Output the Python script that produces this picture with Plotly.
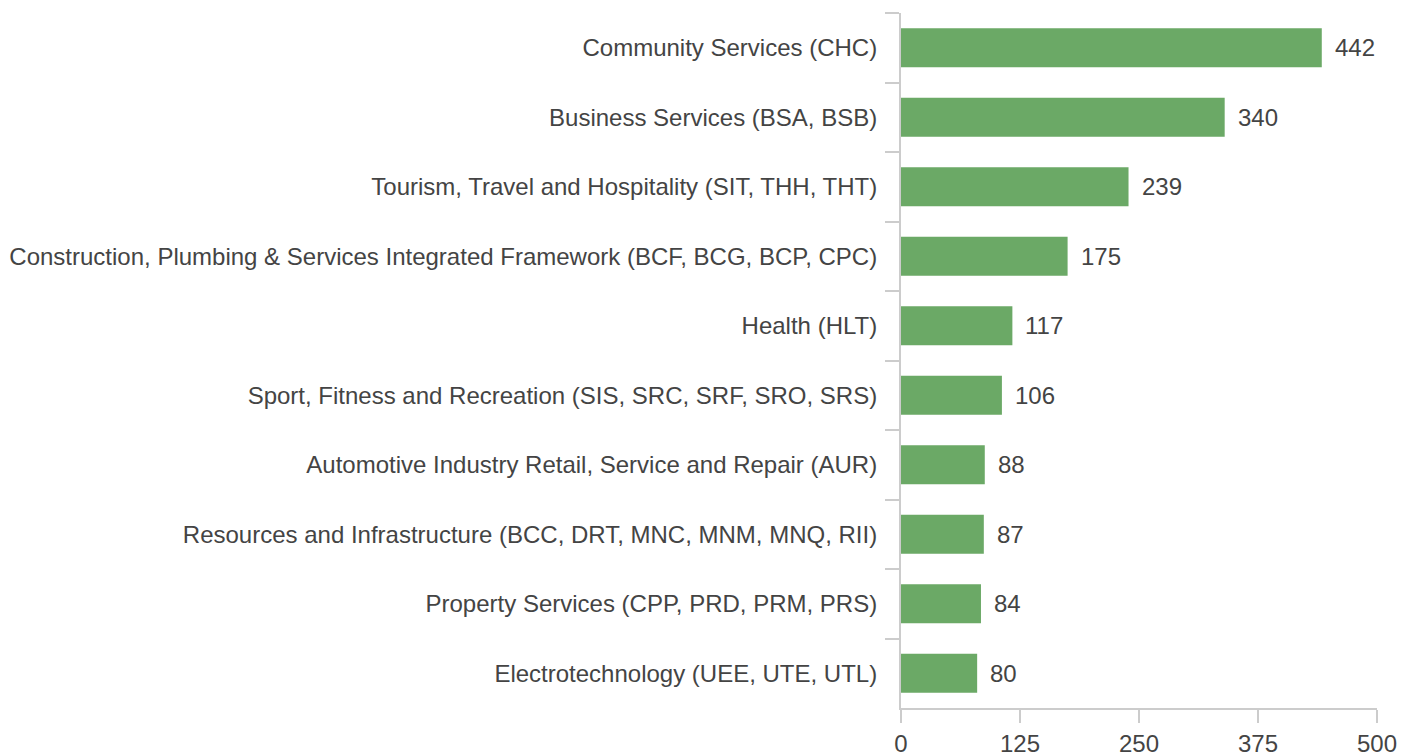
import plotly.graph_objects as go

categories = [
    "Community Services (CHC)",
    "Business Services (BSA, BSB)",
    "Tourism, Travel and Hospitality (SIT, THH, THT)",
    "Construction, Plumbing & Services Integrated Framework (BCF, BCG, BCP, CPC)",
    "Health (HLT)",
    "Sport, Fitness and Recreation (SIS, SRC, SRF, SRO, SRS)",
    "Automotive Industry Retail, Service and Repair (AUR)",
    "Resources and Infrastructure (BCC, DRT, MNC, MNM, MNQ, RII)",
    "Property Services (CPP, PRD, PRM, PRS)",
    "Electrotechnology (UEE, UTE, UTL)",
]
values = [442, 340, 239, 175, 117, 106, 88, 87, 84, 80]
x_ticks = [0, 125, 250, 375, 500]

FONT = "Liberation Sans, Arial, sans-serif"
TXT = "#444444"
AX = "#cccccc"

fig = go.Figure(go.Bar(
    x=values, y=categories, orientation="h",
    marker=dict(color="#6ba966", line=dict(width=0)),
    width=0.56,
    hoverinfo="x+y",
))

for c, v in zip(categories, values):
    fig.add_annotation(x=v, y=c, text=str(v), showarrow=False, xanchor="left",
                       xshift=11, font=dict(family=FONT, size=24, color=TXT))

fig.update_layout(
    width=1402, height=745,
    margin=dict(l=893, r=33, t=5, b=45, autoexpand=False),
    plot_bgcolor="white", paper_bgcolor="white",
    showlegend=False,
    font=dict(family=FONT, size=24, color=TXT),
    xaxis=dict(range=[0, 500], tickvals=x_ticks, showgrid=False, zeroline=False,
               showline=True, linecolor=AX, linewidth=2, automargin=False,
               ticks="outside", ticklen=13, tickcolor=AX, tickwidth=2,
               tickfont=dict(family=FONT, size=24, color=TXT)),
    yaxis=dict(autorange="reversed", showgrid=False, zeroline=False,
               showline=True, linecolor=AX, linewidth=2, automargin=False,
               ticks="outside", tickson="boundaries", ticklen=14, tickcolor=AX, tickwidth=2,
               ticklabelstandoff=17,
               tickfont=dict(family=FONT, size=24, color=TXT)),
)

fig.write_html("out.html")
